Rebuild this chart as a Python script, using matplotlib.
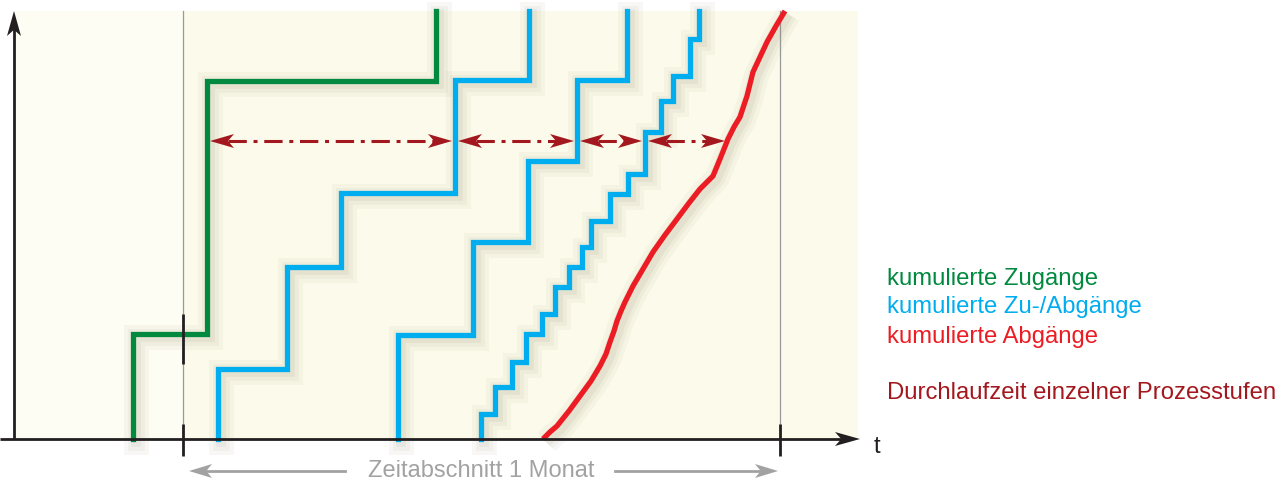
import matplotlib
matplotlib.use("Agg")
import matplotlib.pyplot as plt
import matplotlib.patheffects as pe
from matplotlib.patches import Rectangle, Polygon

plt.rcParams['font.family'] = ['Liberation Sans', 'DejaVu Sans']

# Daten: t (Zeit) und kumulierte Menge, Ursprung im Achsenkreuz
zugang_t = [119, 119, 193, 422]
zugang_y = [0, 105, 358, 428]

stufe1_t = [204, 204, 273, 327, 441, 515]
stufe1_y = [0, 70, 172, 246, 359, 428]

stufe2_t = [384, 384, 459, 514, 563, 613]
stufe2_y = [0, 104, 197, 278, 359, 428]

stufe3_t = [467, 467, 481, 498, 512, 528, 541, 555, 568, 577, 596, 614, 631, 647, 659, 676, 685]
stufe3_y = [0, 25, 52, 77, 105, 125, 152, 172, 192, 218, 245, 265, 307, 338, 363, 400, 428]

abgang_t = [529, 536, 543, 555, 566, 577, 586, 592, 596, 600, 603, 607, 611, 619, 629, 639, 651, 663,
            675, 686, 693, 699, 706, 714, 720, 726, 733, 739, 746, 753, 762, 771]
abgang_y = [0, 7, 13, 28, 43, 58, 73, 85, 97, 108, 118, 128, 137, 153, 170, 187, 204, 220,
            236, 250, 257, 263, 280, 300, 312, 322, 343, 367, 382, 397, 413, 428]

# Durchlaufzeiten auf einer Höhe
dlz_hoehe = 298
dlz_grenzen = [193, 441, 563, 631, 714]

monat = (169, 766)   # Zeitabschnitt 1 Monat
t_max = 846

gruen = '#00893f'
blau = '#00adee'
rot = '#ec1c24'
dunkelrot = '#a3181e'
grau = '#a2a2a2'
schwarz = '#231f20'

fig = plt.figure(figsize=(12.86, 4.81), dpi=100)
ax = fig.add_axes([0, 0, 1, 1])
ax.set_xlim(-14, 1272)
ax.set_ylim(-41, 440)
ax.axis('off')


def spitze(tip, d, farbe, laenge=24, breite=6.5, kerbe=0.75, z=6):
    dx, dy = d
    nx, ny = -dy, dx
    x, y = tip
    pts = [(x, y),
           (x - dx * laenge + nx * breite, y - dy * laenge + ny * breite),
           (x - dx * laenge * kerbe, y - dy * laenge * kerbe),
           (x - dx * laenge - nx * breite, y - dy * laenge - ny * breite)]
    ax.add_patch(Polygon(pts, closed=True, facecolor=farbe, edgecolor='none', zorder=z))


# Hintergrund
ax.add_patch(Rectangle((0, 0), monat[0], 428, facecolor='#fefdf3', edgecolor='none', zorder=0))
ax.add_patch(Rectangle((monat[0], 0), t_max - monat[0] - 2, 428, facecolor='#fcfaea',
                       edgecolor='none', zorder=0))
for m in monat:
    ax.plot([m, m], [0, 428], color='#9a9a9a', lw=0.9, zorder=1)

schatten = [pe.SimpleLineShadow(offset=(2.5, -2.5), shadow_color='#7a7350', alpha=0.05, linewidth=18),
            pe.SimpleLineShadow(offset=(2.5, -2.5), shadow_color='#7a7350', alpha=0.06, linewidth=12),
            pe.SimpleLineShadow(offset=(2.5, -2.5), shadow_color='#7a7350', alpha=0.07, linewidth=7),
            pe.Normal()]

lw = 3.8
ax.step(zugang_t, zugang_y, where='post', color=gruen, lw=lw, solid_joinstyle='miter',
        path_effects=schatten, zorder=3)
for tt, yy in [(stufe1_t, stufe1_y), (stufe2_t, stufe2_y), (stufe3_t, stufe3_y)]:
    ax.step(tt, yy, where='post', color=blau, lw=lw, solid_joinstyle='miter',
            path_effects=schatten, zorder=3)
ax.plot(abgang_t, abgang_y, color=rot, lw=lw, solid_capstyle='butt', solid_joinstyle='round',
        path_effects=schatten, zorder=3)

# Durchlaufzeit-Pfeile
for a, b in zip(dlz_grenzen[:-1], dlz_grenzen[1:]):
    a1, b1 = a + 3, b - 3
    ax.plot([a1 + 18, b1 - 18], [dlz_hoehe, dlz_hoehe], color=dunkelrot, lw=2.2,
            dashes=(6, 2.2, 1.3, 2.2), zorder=5)
    spitze((a1, dlz_hoehe), (-1, 0), dunkelrot, laenge=24, breite=7)
    spitze((b1, dlz_hoehe), (1, 0), dunkelrot, laenge=24, breite=7)

# Achsen
ax.plot([-14, t_max - 10], [0, 0], color=schwarz, lw=2.0, zorder=7, solid_capstyle='butt')
spitze((t_max, 0), (1, 0), schwarz, laenge=25, breite=7, z=8)
ax.plot([0, 0], [0, 410], color=schwarz, lw=2.0, zorder=7, solid_capstyle='butt')
spitze((0, 428), (0, 1), schwarz, laenge=25, breite=7, z=8)
for m in monat:
    ax.plot([m, m], [-17, 15], color=schwarz, lw=2.0, zorder=7, solid_capstyle='butt')
ax.plot([monat[0], monat[0]], [75, 125], color=schwarz, lw=2.0, zorder=7, solid_capstyle='butt')
ax.text(t_max + 17, -7, 't', fontsize=17, color=schwarz, ha='center', va='center')

# Zeitabschnitt
y_m = -32
mitte = (monat[0] + monat[1]) / 2
ax.text(mitte, y_m + 1, 'Zeitabschnitt 1 Monat', fontsize=17, color=grau, ha='center', va='center')
ax.plot([monat[0] + 15, 331], [y_m, y_m], color=grau, lw=2.0, zorder=5)
ax.plot([601, monat[1] - 15], [y_m, y_m], color=grau, lw=2.0, zorder=5)
spitze((monat[0] + 6, y_m), (-1, 0), grau, laenge=23, breite=7)
spitze((monat[1] - 2, y_m), (1, 0), grau, laenge=23, breite=7)

# Legende
leg_x = 873
for txt, farbe, yy in [('kumulierte Zugänge', gruen, 161),
                       ('kumulierte Zu-/Abgänge', blau, 133),
                       ('kumulierte Abgänge', rot, 103),
                       ('Durchlaufzeit einzelner Prozesstufen', dunkelrot, 47)]:
    ax.text(leg_x, yy, txt, fontsize=17.2, color=farbe, ha='left', va='center')

fig.savefig('out.png', dpi=100, facecolor='white')
